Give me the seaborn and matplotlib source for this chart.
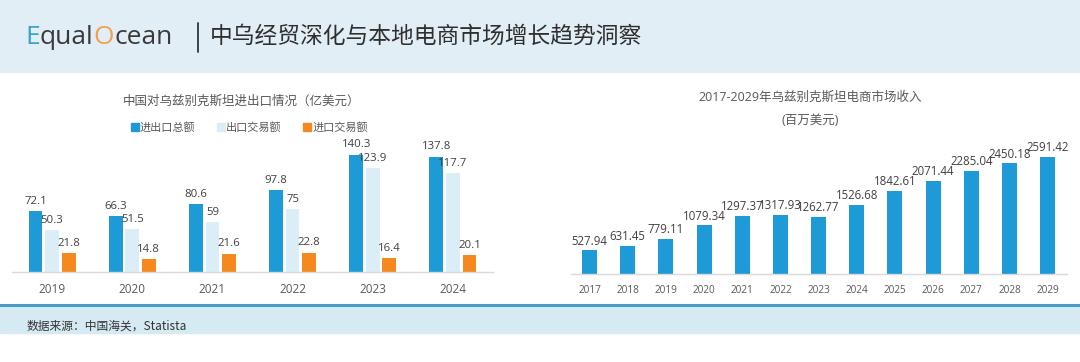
import matplotlib
matplotlib.use("Agg")
import matplotlib.pyplot as plt
from matplotlib.patches import Rectangle
from matplotlib.lines import Line2D
import seaborn as sns
import pandas as pd

# data
trade_years = ['2019', '2020', '2021', '2022', '2023', '2024']
trade_total = [72.1, 66.3, 80.6, 97.8, 140.3, 137.8]
trade_export = [50.3, 51.5, 59, 75, 123.9, 117.7]
trade_import = [21.8, 14.8, 21.6, 22.8, 16.4, 20.1]
trade_series = ['进出口总额', '出口交易额', '进口交易额']

ecom_years = ['2017', '2018', '2019', '2020', '2021', '2022', '2023',
              '2024', '2025', '2026', '2027', '2028', '2029']
ecom_revenue = [527.94, 631.45, 779.11, 1079.34, 1297.37, 1317.93, 1262.77,
                1526.68, 1842.61, 2071.44, 2285.04, 2450.18, 2591.42]

BLUE = '#1e9ad6'
LIGHT = '#dbeef8'
ORANGE = '#f5891f'
GRAY = '#595959'
DARK = '#404040'

sns.set_theme(style='white')
plt.rcParams['font.family'] = ['Open Sans', 'Noto Sans CJK SC', 'DejaVu Sans']

W, H = 1080, 362
fig = plt.figure(figsize=(W / 100, H / 100), dpi=100)


def fx(px):
    return px / W


def fy(py):
    return 1 - py / H


## background bands
fig.add_artist(Rectangle((0, fy(72)), 1, 72 / H, transform=fig.transFigure,
                         color='#e2eef6', zorder=0))
fig.add_artist(Rectangle((0, fy(333)), 1, 27 / H, transform=fig.transFigure,
                         color='#d5eaf2', zorder=0))
fig.add_artist(Line2D([0, 1], [fy(305), fy(305)], transform=fig.transFigure,
                      color='#4a9cc8', lw=2.2, zorder=1))

## header: logo + title
renderer = fig.canvas.get_renderer()
x = fx(25)
for part, col in [('E', '#3aa3cc'), ('qual', '#3a3a3a'), ('O', '#f0a050'), ('cean', '#3a3a3a')]:
    t = fig.text(x, fy(37), part, color=col, fontsize=19, va='center', ha='left',
                 family=['Open Sans', 'DejaVu Sans'])
    bb = t.get_window_extent(renderer=renderer)
    x += bb.width / W
fig.add_artist(Line2D([fx(198), fx(198)], [fy(23), fy(52)], transform=fig.transFigure,
                      color='#333333', lw=1.3))
fig.text(fx(210), fy(36), '中乌经贸深化与本地电商市场增长趋势洞察', fontsize=16.4,
         color='#2f2f2f', va='center', ha='left', fontweight='medium',
         family=['Noto Sans CJK SC'])

## footer source
fig.text(fx(27), fy(326), '数据来源：中国海关，Statista', fontsize=8.5, color='#333333',
         va='center', ha='left', family=['Noto Sans CJK SC'])

## left chart: trade
df_trade = pd.DataFrame({
    'year': trade_years * 3,
    'series': [s for s in trade_series for _ in trade_years],
    'value': trade_total + trade_export + trade_import,
})

ax1 = fig.add_axes([fx(12), fy(271.7), fx(481), (271.7 - 140) / H])
sns.barplot(data=df_trade, x='year', y='value', hue='series', hue_order=trade_series,
            palette=[BLUE, LIGHT, ORANGE], width=0.62, gap=0.17, saturation=1,
            linewidth=0, legend=False, ax=ax1)
ax1.set_xlim(-0.5, 5.5)
ax1.set_ylim(0, (271.7 - 140) / 0.835)
for cont in ax1.containers:
    ax1.bar_label(cont, labels=[f'{v:g}' for v in cont.datavalues], padding=3,
                  fontsize=8.2, color=DARK)

fig.text(fx(242), fy(101), '中国对乌兹别克斯坦进出口情况（亿美元）', fontsize=9,
         color=GRAY, ha='center', va='center')
handles = [Line2D([], [], marker='s', linestyle='none', markersize=6, color=c)
           for c in [BLUE, LIGHT, ORANGE]]
fig.legend(handles, trade_series, loc='center', bbox_to_anchor=(fx(249), fy(128)),
           ncol=3, frameon=False, fontsize=8, handletextpad=0.05, columnspacing=1.9,
           handlelength=0.8, labelcolor=GRAY)

## right chart: e-commerce revenue
ax2 = fig.add_axes([fx(570.5), fy(274.3), fx(496.2), (274.3 - 140) / H])
sns.barplot(x=ecom_years, y=ecom_revenue, color=BLUE, width=0.39, saturation=1,
            linewidth=0, ax=ax2)
ax2.set_xlim(-0.5, 12.5)
ax2.set_ylim(0, (274.3 - 140) / 0.04527)
ax2.bar_label(ax2.containers[0], fmt='%.2f', padding=2, fontsize=8.3, color=DARK)

fig.text(fx(810), fy(97), '2017-2029年乌兹别克斯坦电商市场收入', fontsize=9,
         color=GRAY, ha='center', va='center')
fig.text(fx(810), fy(121), '(百万美元)', fontsize=9, color=GRAY, ha='center', va='center')

for ax, tsize, tpad in [(ax1, 8.5, 8), (ax2, 7.2, 8)]:
    ax.set_xlabel('')
    ax.set_ylabel('')
    ax.set_yticks([])
    for side in ['top', 'left', 'right']:
        ax.spines[side].set_visible(False)
    ax.spines['bottom'].set_color('#d9d9d9')
    ax.spines['bottom'].set_linewidth(1)
    ax.tick_params(axis='x', length=0, pad=tpad, labelsize=tsize, labelcolor=GRAY)
    ax.patch.set_alpha(0)

fig.savefig('out.png', dpi=100, facecolor='white')
